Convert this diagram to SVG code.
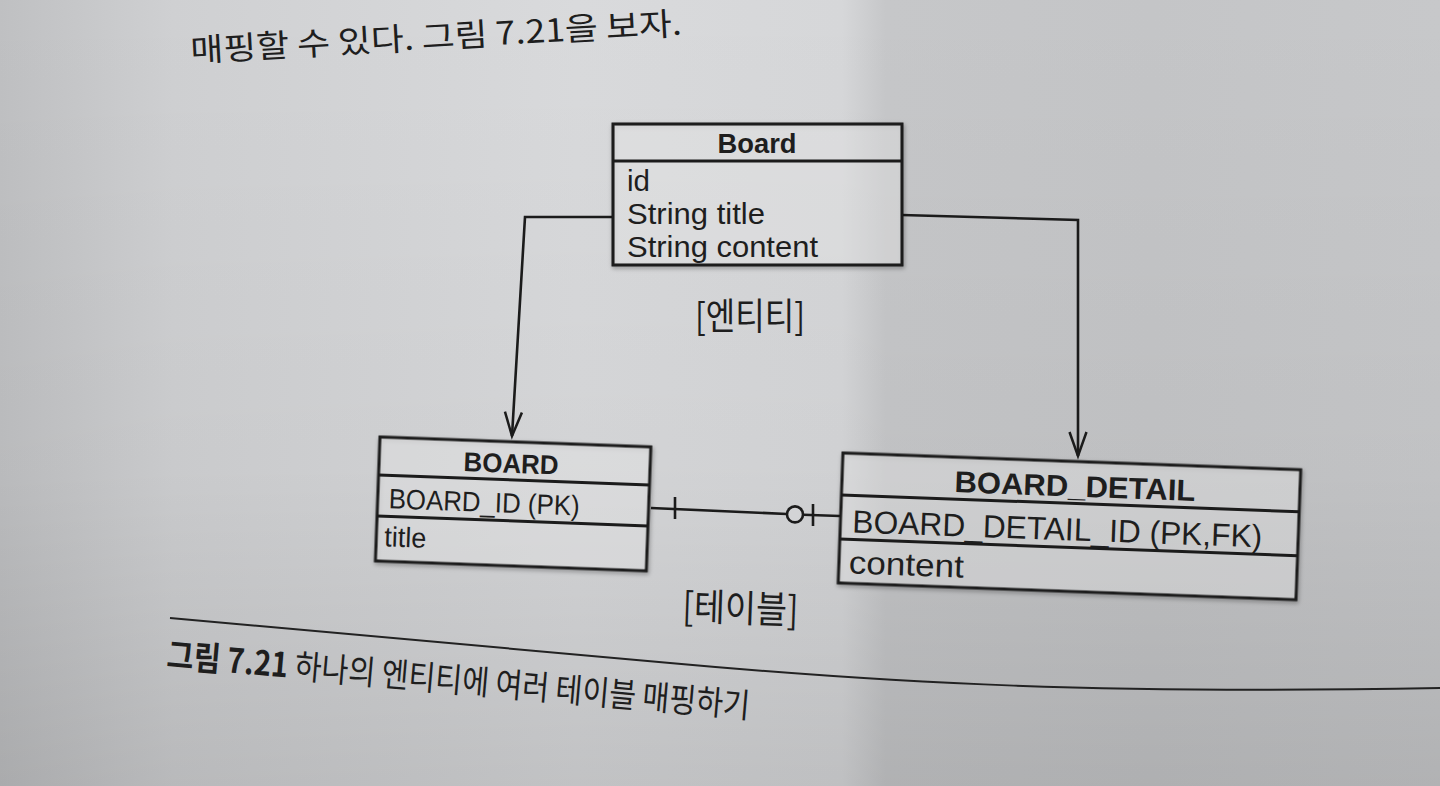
<svg xmlns="http://www.w3.org/2000/svg" width="1440" height="786" viewBox="0 0 1440 786">
  <defs>
    <linearGradient id="bgH" x1="0" y1="0" x2="1440" y2="0" gradientUnits="userSpaceOnUse">
      <stop offset="0" stop-color="#bfc0c2"/>
      <stop offset="0.12" stop-color="#cfd0d2"/>
      <stop offset="0.4" stop-color="#d9dadc"/>
      <stop offset="0.585" stop-color="#d6d7d9"/>
      <stop offset="0.615" stop-color="#c6c7c9"/>
      <stop offset="0.8" stop-color="#c4c5c7"/>
      <stop offset="1" stop-color="#c7c8ca"/>
    </linearGradient>
    <linearGradient id="bgV" x1="0" y1="0" x2="0" y2="786" gradientUnits="userSpaceOnUse">
      <stop offset="0" stop-color="#000" stop-opacity="0"/>
      <stop offset="0.6" stop-color="#000" stop-opacity="0.03"/>
      <stop offset="1" stop-color="#000" stop-opacity="0.11"/>
    </linearGradient>
    <linearGradient id="topText" x1="190" y1="0" x2="690" y2="0" gradientUnits="userSpaceOnUse">
      <stop offset="0" stop-color="#7e7f81"/>
      <stop offset="0.45" stop-color="#5a5b5d"/>
      <stop offset="0.55" stop-color="#3a3a3c"/>
      <stop offset="1" stop-color="#2e2e30"/>
    </linearGradient>
    <filter id="shadow" x="-5%" y="-10%" width="110%" height="125%">
      <feDropShadow dx="1" dy="2" stdDeviation="2" flood-color="#000" flood-opacity="0.35"/>
    </filter>
    <marker id="arrow" markerUnits="userSpaceOnUse" markerWidth="30" markerHeight="22" refX="25" refY="10" orient="auto">
      <path d="M1,1.5 L25,10 L1,18.5" fill="none" stroke="#1b1b1b" stroke-width="2.5" stroke-linejoin="miter"/>
    </marker>
    <style>
      .box { fill: #ffffff; fill-opacity: 0.28; stroke: #1b1b1b; stroke-width: 3; filter: url(#shadow); }
      .sep { stroke: #1b1b1b; stroke-width: 3; }
      .en { font-family: "Liberation Sans", Arial, sans-serif; fill: #1e1e1e; }
      .hd { font-weight: bold; text-anchor: middle; }
      .ko { font-family: "Noto Sans CJK KR", "Noto Sans CJK SC", sans-serif; fill: #1e1e1e; }
      .conn { fill: none; stroke: #1b1b1b; stroke-width: 2.6; }
    </style>
  </defs>

  <!-- page background -->
  <rect x="0" y="0" width="1440" height="786" fill="url(#bgH)"/>
  <rect x="0" y="0" width="1440" height="786" fill="url(#bgV)"/>

  <!-- body text above the figure -->
  <text class="ko" x="191" y="62" font-size="32" fill="url(#topText)" transform="rotate(-3.2 191 62)" textLength="492" lengthAdjust="spacingAndGlyphs">매핑할 수 있다. 그림 7.21을 보자.</text>

  <!-- connectors -->
  <g id="connectors">
    <polyline class="conn" points="612,217 525,217 512,436" marker-end="url(#arrow)"/>
    <polyline class="conn" points="902,215 1078,220 1078,456" marker-end="url(#arrow)"/>
    <line class="conn" x1="651" y1="508" x2="787" y2="514"/>
    <line class="conn" x1="803" y1="514.7" x2="840" y2="516"/>
    <line class="conn" x1="675" y1="497" x2="675" y2="519"/>
    <circle cx="795" cy="514.4" r="8" fill="#d3d4d6" stroke="#1b1b1b" stroke-width="2.6"/>
    <line class="conn" x1="813" y1="504" x2="813" y2="526"/>
  </g>

  <!-- entity: Board -->
  <g id="node-board-entity">
    <rect class="box" x="613" y="124" width="289" height="141"/>
    <line class="sep" x1="613" y1="161" x2="902" y2="161"/>
    <text class="en hd" x="757" y="153" font-size="28" textLength="79" lengthAdjust="spacingAndGlyphs">Board</text>
    <text class="en" x="627" y="191" font-size="30" textLength="23" lengthAdjust="spacingAndGlyphs">id</text>
    <text class="en" x="627" y="224" font-size="30" textLength="138" lengthAdjust="spacingAndGlyphs">String title</text>
    <text class="en" x="627" y="257" font-size="30" textLength="191" lengthAdjust="spacingAndGlyphs">String content</text>
  </g>

  <!-- label [엔티티] -->
  <text class="ko" x="750" y="330" font-size="37" text-anchor="middle" textLength="110" lengthAdjust="spacingAndGlyphs">[엔티티]</text>

  <!-- table: BOARD -->
  <g id="node-board-table" transform="translate(380 437) rotate(2.1)">
    <rect class="box" x="0" y="0" width="271" height="124"/>
    <line class="sep" x1="0" y1="38" x2="271" y2="38"/>
    <line class="sep" x1="0" y1="79" x2="271" y2="79"/>
    <text class="en hd" x="132" y="31" font-size="27" textLength="95" lengthAdjust="spacingAndGlyphs">BOARD</text>
    <text class="en" x="11" y="71" font-size="28" textLength="191" lengthAdjust="spacingAndGlyphs">BOARD_ID (PK)</text>
    <text class="en" x="8" y="109" font-size="28" textLength="42" lengthAdjust="spacingAndGlyphs">title</text>
  </g>

  <!-- table: BOARD_DETAIL -->
  <g id="node-board-detail" transform="translate(843 453) rotate(2.1)">
    <rect class="box" x="0" y="0" width="458" height="130"/>
    <line class="sep" x1="0" y1="42" x2="458" y2="42"/>
    <line class="sep" x1="0" y1="86" x2="458" y2="86"/>
    <text class="en hd" x="233" y="35" font-size="30" textLength="241" lengthAdjust="spacingAndGlyphs">BOARD_DETAIL</text>
    <text class="en" x="12" y="79" font-size="32" textLength="410" lengthAdjust="spacingAndGlyphs">BOARD_DETAIL_ID (PK,FK)</text>
    <text class="en" x="10" y="120" font-size="32" textLength="115" lengthAdjust="spacingAndGlyphs">content</text>
  </g>

  <!-- label [테이블] -->
  <text class="ko" x="740" y="622" font-size="38" text-anchor="middle" transform="rotate(2 740 622)" textLength="116" lengthAdjust="spacingAndGlyphs">[테이블]</text>

  <!-- caption rule and caption -->
  <path d="M170,618 L670,663 C900,684 1100,694 1440,688" fill="none" stroke="#222" stroke-width="2"/>
  <text class="ko" x="166" y="667" font-size="34" transform="rotate(5 166 667)" textLength="585" lengthAdjust="spacingAndGlyphs"><tspan font-weight="bold">그림 7.21</tspan> 하나의 엔티티에 여러 테이블 매핑하기</text>
</svg>
